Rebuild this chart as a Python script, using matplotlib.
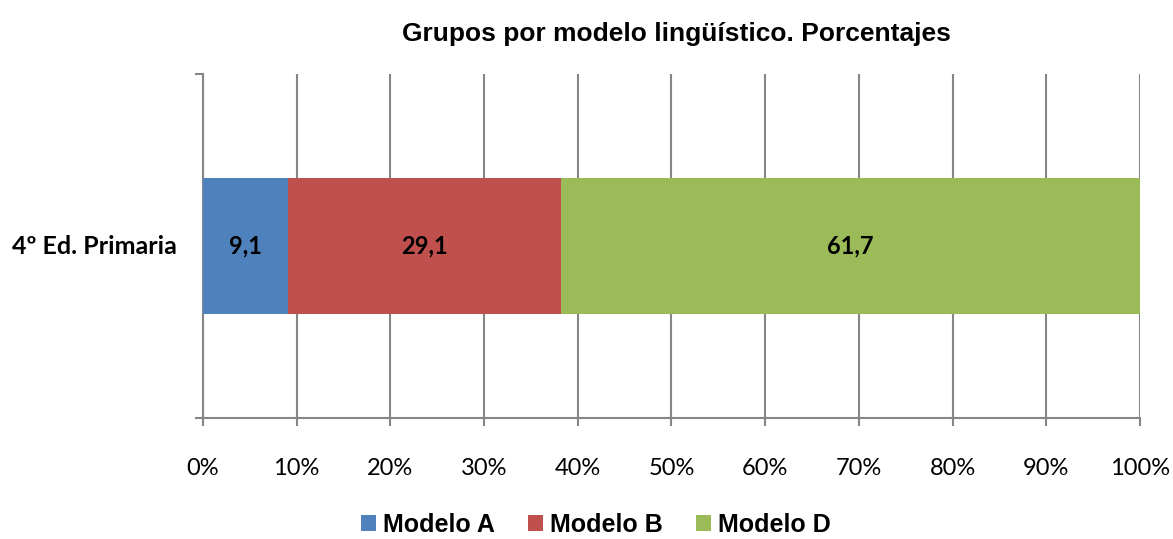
import matplotlib.pyplot as plt
import numpy as np

categories = ['4º Ed. Primaria']
series = ['Modelo A', 'Modelo B', 'Modelo D']
values = [9.1, 29.1, 61.7]
colors = ['#4F81BD', '#C0504D', '#9BBB59']
xticks = [0, 10, 20, 30, 40, 50, 60, 70, 80, 90, 100]

fig = plt.figure(figsize=(11.73, 5.39), dpi=100)
ax = fig.add_axes([0.173, 0.2245, 0.7989, 0.638])

total = sum(values)
shares = [v / total * 100 for v in values]
left = 0
handles = []
for name, v, s, c in zip(series, values, shares, colors):
    h = ax.barh(0.5, s, left=left, height=0.398, color=c, label=name, zorder=3)
    handles.append(h)
    ax.text(left + s / 2, 0.5, f'{v:.1f}'.replace('.', ','), ha='center', va='center',
            fontsize=17, fontweight='bold', family=['Lato', 'DejaVu Sans'], zorder=4)
    left += s

ax.set_xlim(0, 100)
ax.set_ylim(0, 1)
ax.set_xticks(xticks)
ax.set_xticklabels([f'{t}%' for t in xticks], family=['Lato', 'DejaVu Sans'], fontsize=17)
ax.set_yticks([0, 1])
ax.set_yticklabels([])
ax.text(-2.8, 0.5, categories[0], transform=ax.transData, ha='right', va='center',
        fontsize=18, fontweight='bold', family=['Lato', 'DejaVu Sans'])
ax.grid(axis='x', color='#868686', linewidth=1.5, zorder=0)
ax.tick_params(axis='x', length=6, width=1.5, color='#868686', pad=23)
ax.tick_params(axis='y', length=6, width=1.5, color='#868686')
for side in ['top', 'right']:
    ax.spines[side].set_visible(False)
for side in ['left', 'bottom']:
    ax.spines[side].set_color('#868686')
    ax.spines[side].set_linewidth(1.5)

fig.suptitle('Grupos por modelo lingüístico. Porcentajes', x=0.577, y=0.96,
             fontsize=19, fontweight='bold', family='Liberation Sans')
fig.legend(handles=handles, loc='lower center', bbox_to_anchor=(0.508, -0.038), ncol=3,
           frameon=False, prop={'family': 'Liberation Sans', 'weight': 'bold', 'size': 18},
           handlelength=0.6, handleheight=0.6, handletextpad=0.3, columnspacing=1.3)

fig.savefig('out.png', dpi=100)
